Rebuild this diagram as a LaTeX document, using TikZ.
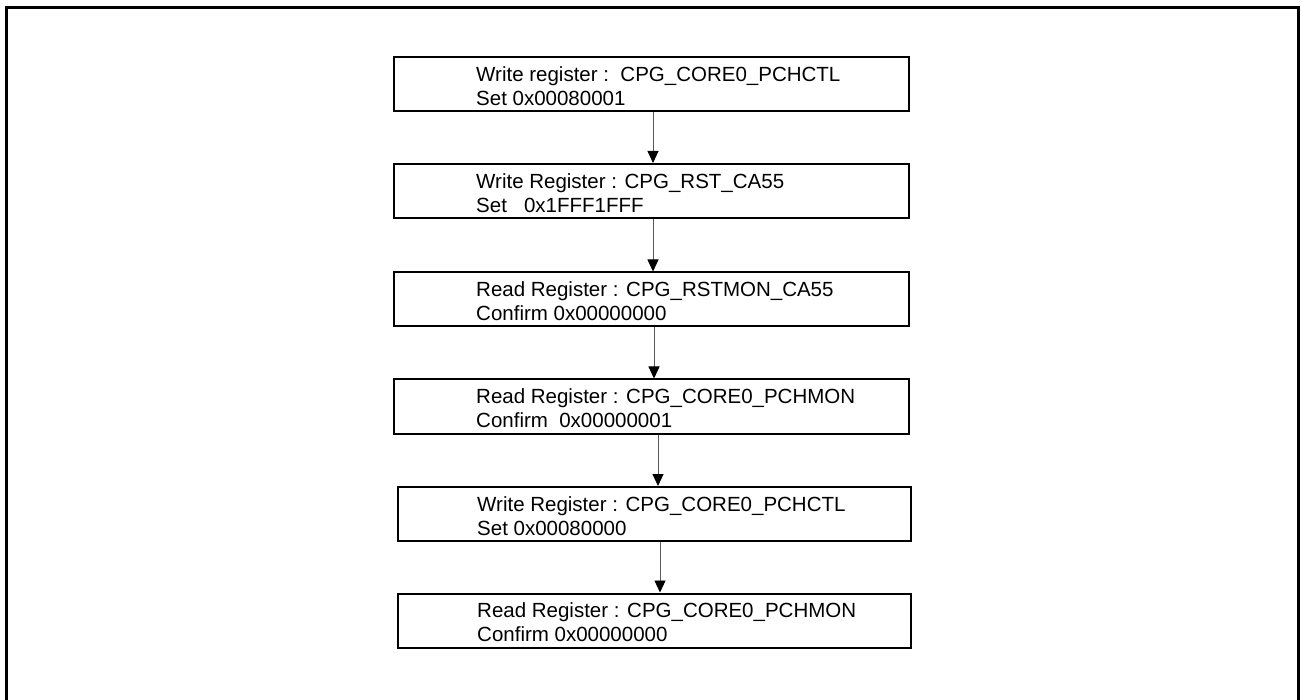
\documentclass[tikz,border=0pt]{standalone}
\usepackage{fontspec}
\setmainfont{Liberation Sans}
\usetikzlibrary{arrows.meta,positioning}

\begin{document}
\begin{tikzpicture}[
        x=1pt, y=-1pt,
        framebox/.style={line width=3pt},
        stepbox/.style={draw, line width=2pt, minimum width=515pt, minimum height=54pt, inner sep=0pt},
        steptext/.style={anchor=west, align=left, inner sep=0pt, font=\fontsize{20.5}{24}\selectfont},
        flowarrow/.style={draw=black!65, line width=0.9pt, -{Triangle[width=11pt, length=12pt, color=black]}}
    ]
    \useasboundingbox (0,0) rectangle (1301,700);

    % ==========================================
    % OUTER FRAME (open at the bottom)
    % ==========================================
    \draw[framebox] (6,700) -- (6,8) -- (1298,8) -- (1298,700);

    % ==========================================
    % STEPS
    % ==========================================
    \node[stepbox] (s1) at (651.5,84) {};
    \node[steptext] (t1) at ([xshift=83pt, yshift=-2pt]s1.west) {Write register :~~CPG\_CORE0\_PCHCTL\\Set 0x00080001};

    \node[stepbox] (s2) at (651.5,191) {};
    \node[steptext] (t2) at ([xshift=83pt, yshift=-2pt]s2.west) {Write Register : CPG\_RST\_CA55\\Set~~~0x1FFF1FFF};

    \node[stepbox] (s3) at (651.5,299.5) {};
    \node[steptext] (t3) at ([xshift=83pt, yshift=-2pt]s3.west) {Read Register : CPG\_RSTMON\_CA55\\Confirm 0x00000000};

    \node[stepbox] (s4) at (651.5,406.5) {};
    \node[steptext] (t4) at ([xshift=83pt, yshift=-2pt]s4.west) {Read Register : CPG\_CORE0\_PCHMON\\Confirm~~0x00000001};

    \node[stepbox, minimum width=513pt] (s5) at (654.5,514) {};
    \node[steptext] (t5) at ([xshift=80pt, yshift=-2pt]s5.west) {Write Register : CPG\_CORE0\_PCHCTL\\Set 0x00080000};

    \node[stepbox, minimum width=513pt] (s6) at (654.5,620.5) {};
    \node[steptext] (t6) at ([xshift=80pt, yshift=-2pt]s6.west) {Read Register : CPG\_CORE0\_PCHMON\\Confirm 0x00000000};

    % ==========================================
    % ARROWS
    % ==========================================
    \draw[flowarrow] ([xshift=1.5pt]s1.south) -- ([xshift=1.5pt]s2.north);
    \draw[flowarrow] ([xshift=1.5pt]s2.south) -- ([xshift=1.5pt]s3.north);
    \draw[flowarrow] ([xshift=2.5pt]s3.south) -- ([xshift=2.5pt]s4.north);
    \draw[flowarrow] ([xshift=6.5pt]s4.south) -- ([xshift=3.5pt]s5.north);
    \draw[flowarrow] ([xshift=5.5pt]s5.south) -- ([xshift=5.5pt]s6.north);

\end{tikzpicture}
\end{document}
